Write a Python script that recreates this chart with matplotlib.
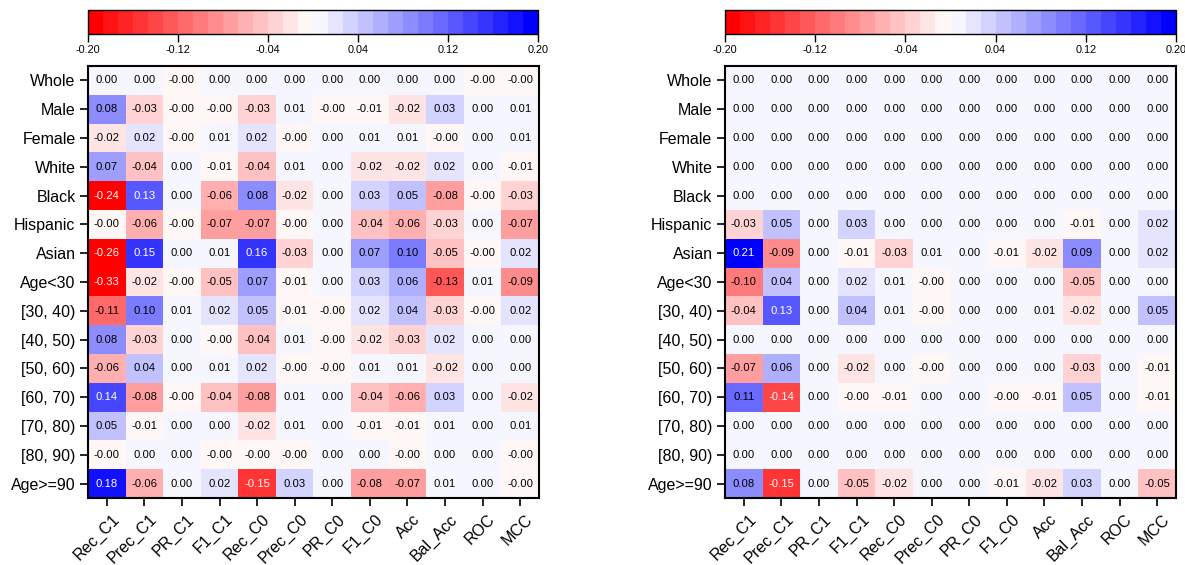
import numpy as np
import matplotlib
matplotlib.use("Agg")
import matplotlib.pyplot as plt
from matplotlib.colors import Normalize
from matplotlib.transforms import ScaledTranslation

plt.rcParams['font.family'] = ['Liberation Sans', 'DejaVu Sans']

groups = ['Whole', 'Male', 'Female', 'White', 'Black', 'Hispanic', 'Asian',
          'Age<30', '[30, 40)', '[40, 50)', '[50, 60)', '[60, 70)',
          '[70, 80)', '[80, 90)', 'Age>=90']
metrics = ['Rec_C1', 'Prec_C1', 'PR_C1', 'F1_C1', 'Rec_C0', 'Prec_C0',
           'PR_C0', 'F1_C0', 'Acc', 'Bal_Acc', 'ROC', 'MCC']

# -0.001 stands for a tiny negative difference that prints as "-0.00"
Z = -0.001

diff_left = [
    [0.00, 0.00, Z, 0.00, 0.00, 0.00, 0.00, 0.00, 0.00, 0.00, Z, Z],
    [0.08, -0.03, Z, Z, -0.03, 0.01, Z, -0.01, -0.02, 0.03, 0.00, 0.01],
    [-0.02, 0.02, Z, 0.01, 0.02, Z, 0.00, 0.01, 0.01, Z, 0.00, 0.01],
    [0.07, -0.04, 0.00, -0.01, -0.04, 0.01, 0.00, -0.02, -0.02, 0.02, 0.00, -0.01],
    [-0.24, 0.13, 0.00, -0.06, 0.08, -0.02, 0.00, 0.03, 0.05, -0.08, Z, -0.03],
    [Z, -0.06, Z, -0.07, -0.07, Z, 0.00, -0.04, -0.06, -0.03, 0.00, -0.07],
    [-0.26, 0.15, 0.00, 0.01, 0.16, -0.03, 0.00, 0.07, 0.10, -0.05, Z, 0.02],
    [-0.33, -0.02, Z, -0.05, 0.07, -0.01, 0.00, 0.03, 0.06, -0.13, 0.01, -0.09],
    [-0.11, 0.10, 0.01, 0.02, 0.05, -0.01, Z, 0.02, 0.04, -0.03, Z, 0.02],
    [0.08, -0.03, 0.00, Z, -0.04, 0.01, Z, -0.02, -0.03, 0.02, 0.00, 0.00],
    [-0.06, 0.04, 0.00, 0.01, 0.02, Z, Z, 0.01, 0.01, -0.02, 0.00, 0.00],
    [0.14, -0.08, Z, -0.04, -0.08, 0.01, 0.00, -0.04, -0.06, 0.03, 0.00, -0.02],
    [0.05, -0.01, 0.00, 0.00, -0.02, 0.01, 0.00, -0.01, -0.01, 0.01, 0.00, 0.01],
    [Z, 0.00, 0.00, Z, Z, Z, 0.00, 0.00, Z, 0.00, 0.00, Z],
    [0.18, -0.06, 0.00, 0.02, -0.15, 0.03, 0.00, -0.08, -0.07, 0.01, 0.00, Z],
]

zero_row = [0.00] * 12
diff_right = [
    zero_row, zero_row, zero_row, zero_row, zero_row,
    [-0.03, 0.05, 0.00, 0.03, 0.00, 0.00, 0.00, 0.00, 0.00, -0.01, 0.00, 0.02],
    [0.21, -0.09, 0.00, -0.01, -0.03, 0.01, 0.00, -0.01, -0.02, 0.09, 0.00, 0.02],
    [-0.10, 0.04, 0.00, 0.02, 0.01, Z, 0.00, 0.00, 0.00, -0.05, 0.00, 0.00],
    [-0.04, 0.13, 0.00, 0.04, 0.01, Z, 0.00, 0.00, 0.01, -0.02, 0.00, 0.05],
    zero_row,
    [-0.07, 0.06, 0.00, -0.02, 0.00, Z, 0.00, 0.00, 0.00, -0.03, 0.00, -0.01],
    [0.11, -0.14, 0.00, Z, -0.01, 0.00, 0.00, Z, -0.01, 0.05, 0.00, -0.01],
    zero_row, zero_row,
    [0.08, -0.15, 0.00, -0.05, -0.02, 0.00, 0.00, -0.01, -0.02, 0.03, 0.00, -0.05],
]

cbar_ticks = [-0.20, -0.12, -0.04, 0.04, 0.12, 0.20]

cmap = plt.get_cmap('bwr_r', 30)
norm = Normalize(vmin=-0.2, vmax=0.2)

W, H = 1185, 565
fig = plt.figure(figsize=(W / 100, H / 100), dpi=100)


def px_axes(x0, y0, x1, y1):
    # axes from pixel box (top-left origin)
    return fig.add_axes([x0 / W, 1 - y1 / H, (x1 - x0) / W, (y1 - y0) / H])


def draw_heat(ax, cax, data):
    data = np.array(data)
    im = ax.imshow(data, cmap=cmap, norm=norm, aspect='auto',
                   interpolation='nearest')
    for i in range(data.shape[0]):
        for j in range(data.shape[1]):
            v = data[i, j]
            r, g, b, _ = cmap(norm(v))
            lum = 0.2126 * r + 0.7152 * g + 0.0722 * b
            ax.text(j, i, f'{v:.2f}', ha='center', va='center', fontsize=8.1,
                    color='white' if lum < 0.44 else 'black')
    ax.set_xticks(range(len(metrics)))
    ax.set_xticklabels(metrics, rotation=45, ha='right',
                       rotation_mode='anchor', fontsize=11.5)
    ax.set_yticks(range(len(groups)))
    ax.set_yticklabels(groups, fontsize=11.5)
    ax.tick_params(length=6, width=1.2, color='black', pad=3)
    # nudge the slanted labels a bit right under their ticks
    shift = ScaledTranslation(5 / 100, -1 / 100, fig.dpi_scale_trans)
    for lbl in ax.get_xticklabels():
        lbl.set_transform(lbl.get_transform() + shift)
    for s in ax.spines.values():
        s.set_linewidth(1.5)

    cb = fig.colorbar(im, cax=cax, orientation='horizontal', ticks=cbar_ticks,
                      format='%.2f')
    cb.outline.set_linewidth(1.0)
    cax.tick_params(labelsize=7.8, length=6, width=1.0, pad=2)


ax1 = px_axes(88, 66, 539, 498)
cax1 = px_axes(88, 10, 538, 34)
draw_heat(ax1, cax1, diff_left)

ax2 = px_axes(725, 66, 1176, 498)
cax2 = px_axes(725, 10, 1176, 34)
draw_heat(ax2, cax2, diff_right)

fig.savefig('out.png', dpi=100)
